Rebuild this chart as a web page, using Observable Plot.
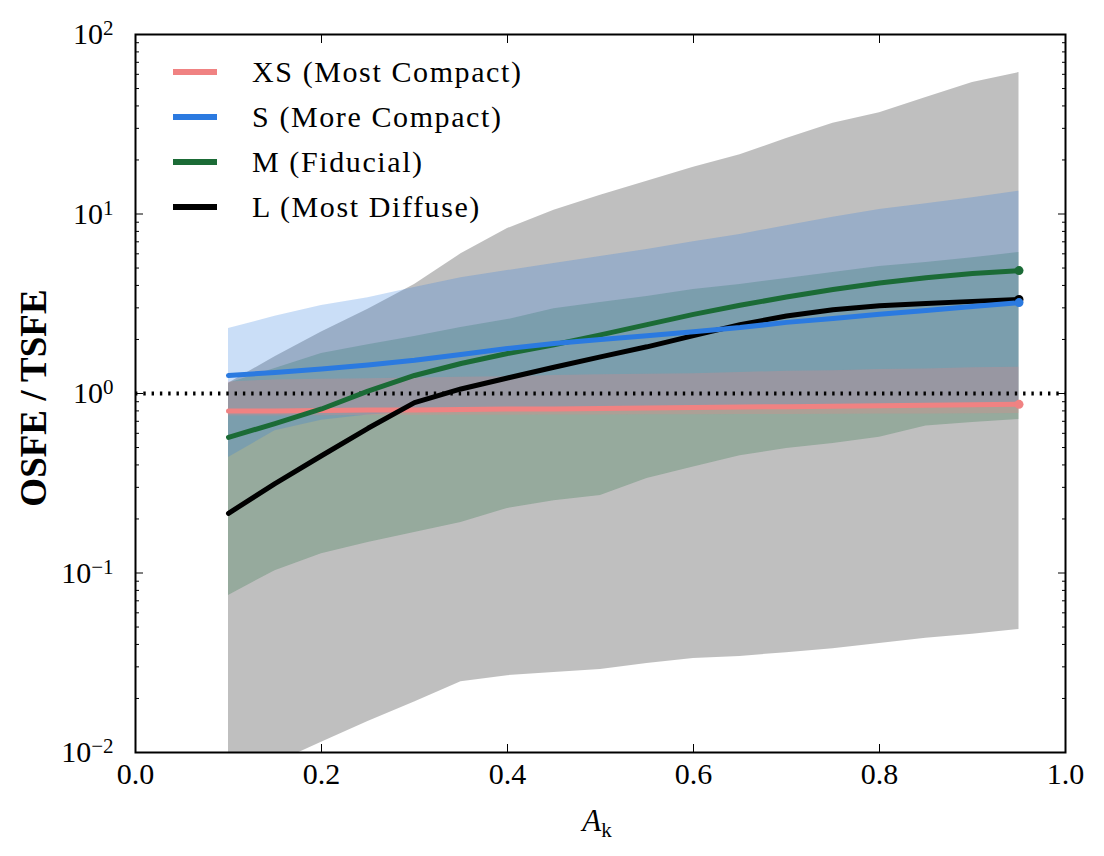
<!DOCTYPE html>
<html>
<head>
<meta charset="utf-8">
<script src="https://cdn.jsdelivr.net/npm/d3@7"></script>
<script src="https://cdn.jsdelivr.net/npm/@observablehq/plot@0.6"></script>
<style>
  html, body { margin: 0; padding: 0; background: #fff; }
  #chart { position: relative; width: 1104px; height: 856px; }
  #legend { position: absolute; left: 173px; top: 50px; font-family: 'Liberation Serif', serif; font-size: 30px; letter-spacing: 1.6px; color: #000; }
  #legend .row { display: flex; align-items: center; height: 44.8px; }
  #legend .sw { width: 44px; height: 6px; margin-right: 35px; }
</style>
</head>
<body>
<div id="chart"><div id="legend"></div></div>
<script>
// ---- data ----
const ak = [0.1,0.15,0.2,0.25,0.3,0.35,0.4,0.45,0.5,0.55,0.6,0.65,0.7,0.75,0.8,0.85,0.9,0.95];

const xsLine = [0.80,0.80,0.805,0.81,0.81,0.815,0.82,0.82,0.825,0.83,0.835,0.84,0.845,0.85,0.855,0.86,0.865,0.87];
const xsLo   = [0.75,0.75,0.752,0.754,0.755,0.756,0.757,0.758,0.76,0.761,0.762,0.763,0.765,0.766,0.768,0.77,0.772,0.774];
const xsHi   = [1.16,1.19,1.2,1.21,1.22,1.23,1.24,1.26,1.27,1.28,1.29,1.31,1.33,1.34,1.36,1.37,1.39,1.4];

const sLine = [1.26,1.31,1.37,1.44,1.53,1.65,1.78,1.9,2.0,2.1,2.21,2.33,2.49,2.62,2.76,2.9,3.05,3.21];
const sLo   = [0.44,0.62,0.71,0.76,0.79,0.8,0.81,0.82,0.82,0.83,0.83,0.84,0.84,0.85,0.85,0.86,0.86,0.86];
const sHi   = [2.3,2.69,3.09,3.42,3.9,4.42,4.84,5.3,5.8,6.35,7.0,7.7,8.6,9.6,10.6,11.4,12.3,13.4];

const mLine = [0.57,0.68,0.82,1.03,1.26,1.47,1.67,1.87,2.12,2.42,2.76,3.1,3.45,3.8,4.13,4.42,4.66,4.84];
const mLo   = [0.075,0.103,0.128,0.148,0.168,0.191,0.229,0.253,0.27,0.336,0.39,0.45,0.494,0.527,0.57,0.66,0.69,0.716];
const mHi   = [1.14,1.38,1.67,1.87,2.08,2.33,2.58,2.97,3.21,3.47,3.8,4.05,4.37,4.72,5.1,5.37,5.7,6.1];

const lLine = [0.215,0.315,0.45,0.64,0.89,1.06,1.22,1.40,1.60,1.82,2.1,2.42,2.7,2.93,3.08,3.17,3.26,3.34];
const lLo   = [0.0067,0.0087,0.0114,0.0149,0.0191,0.0248,0.0268,0.0279,0.029,0.0313,0.0334,0.0343,0.036,0.0379,0.0405,0.0433,0.0456,0.0484];
const lHi   = [1.14,1.6,2.2,2.95,4.05,6.0,8.3,10.5,12.7,15.2,18.2,21.4,26.3,32,36.7,44.6,54,61.4];

const seriesNames  = ["XS (Most Compact)", "S (More Compact)", "M (Fiducial)", "L (Most Diffuse)"];
const seriesKeys   = ["XS", "S", "M", "L"];
const seriesColors = ["#f08282", "#2b7ae0", "#1b6b36", "#000000"];

const xTicks = [0, 0.2, 0.4, 0.6, 0.8, 1.0];
const yTicks = [0.01, 0.1, 1, 10, 100];
const yTickLabels = ["10^−2", "10^−1", "10^0", "10^1", "10^2"];
const yMinor = [];
for (const d of [0.01, 0.1, 1, 10]) for (let k = 2; k <= 9; k++) yMinor.push(+(k * d).toPrecision(3));

const xLabel = ["A", "k"];
const yLabel = "OSFE / TSFE";

// ---- build table ----
const lines = {XS: xsLine, S: sLine, M: mLine, L: lLine};
const los = {XS: xsLo, S: sLo, M: mLo, L: lLo};
const his = {XS: xsHi, S: sHi, M: mHi, L: lHi};
const color = Object.fromEntries(seriesKeys.map((k, i) => [k, seriesColors[i]]));
const rows = seriesKeys.flatMap(k => ak.map((a, i) => ({key: k, ak: a, v: lines[k][i], lo: los[k][i], hi: his[k][i]})));
const of = k => rows.filter(d => d.key === k);

const bandOrder = ["L", "M", "S", "XS"];
const lineOrder = ["XS", "M", "L", "S"];
const SERIF = "'Liberation Serif', 'Times New Roman', serif";

const plot = Plot.plot({
  width: 1104,
  height: 856,
  marginLeft: 135,
  marginRight: 39,
  marginTop: 34,
  marginBottom: 104,
  x: {domain: [0, 1]},
  y: {type: "log", domain: [0.01, 100]},
  style: {fontFamily: SERIF, fontSize: "30px", color: "black", background: "white", overflow: "visible"},
  marks: [
    ...bandOrder.map(k => Plot.areaY(of(k), {x: "ak", y1: "lo", y2: "hi", fill: color[k], fillOpacity: 0.25, clip: true})),
    Plot.ruleY([1], {stroke: "black", strokeWidth: 4, strokeDasharray: "2.4,5.9"}),
    ...lineOrder.map(k => Plot.line(of(k), {x: "ak", y: "v", stroke: color[k], strokeWidth: 5, strokeLinejoin: "round"})),
    ...lineOrder.map(k => Plot.dot(of(k).slice(-1), {x: "ak", y: "v", r: 4.5, fill: color[k], stroke: null})),
    // ticks (inward)
    Plot.axisX({ticks: xTicks, anchor: "bottom", tickSize: -8, tickFormat: () => "", label: null}),
    Plot.axisX({ticks: xTicks, anchor: "top", tickSize: -8, tickFormat: () => "", label: null}),
    Plot.axisY({ticks: yTicks, anchor: "left", tickSize: -8, tickFormat: () => "", label: null}),
    Plot.axisY({ticks: yTicks, anchor: "right", tickSize: -8, tickFormat: () => "", label: null}),
    Plot.axisY({ticks: yMinor, anchor: "left", tickSize: -4, tickFormat: () => "", label: null}),
    Plot.axisY({ticks: yMinor, anchor: "right", tickSize: -4, tickFormat: () => "", label: null}),
    // tick labels
    Plot.axisX({ticks: xTicks, anchor: "bottom", tickSize: 0, tickPadding: 10, tickFormat: d3.format(".1f"), label: null}),
    Plot.axisY({ticks: yTicks, anchor: "left", tickSize: 0, tickPadding: 22, tickFormat: d => yTickLabels[yTicks.indexOf(d)], label: null}),
    Plot.frame({stroke: "black", strokeWidth: 2})
  ]
});

document.getElementById("chart").prepend(plot);
const svg = d3.select(plot);

// force serif tick labels
svg.selectAll('g[aria-label="x-axis tick label"], g[aria-label="y-axis tick label"]')
  .attr("font-family", SERIF).attr("font-size", 30).attr("font-variant", null)
  .style("font-family", SERIF).style("font-size", "30px");
svg.selectAll('g[aria-label="x-axis tick label"] text, g[aria-label="y-axis tick label"] text')
  .style("font-family", SERIF).style("font-size", "30px");

// superscript exponents on y tick labels
svg.selectAll('g[aria-label="y-axis tick label"] text').each(function () {
  const t = d3.select(this);
  const s = t.text();
  if (!s.includes("^")) return;
  const [base, exp] = s.split("^");
  t.text(null);
  t.append("tspan").text(base);
  t.append("tspan").attr("dy", "-0.42em").style("font-size", "21px").text(exp);
});

// axis titles
const xs = plot.scale("x"), ysc = plot.scale("y");
const xc = (xs.apply(0) + xs.apply(1)) / 2;
const yc = (ysc.apply(0.01) + ysc.apply(100)) / 2;
const xt = svg.append("text").attr("x", xc - 3).attr("y", 831).attr("text-anchor", "middle")
  .style("font-family", SERIF).style("font-size", "31px").attr("fill", "black");
xt.append("tspan").style("font-style", "italic").text(xLabel[0]);
xt.append("tspan").style("font-size", "21px").attr("dy", 6).text(xLabel[1]);

svg.append("text").attr("transform", `translate(46,${yc + 5}) rotate(-90)`).attr("text-anchor", "middle")
  .style("font-family", SERIF).style("font-weight", "bold").style("font-size", "37px").attr("fill", "black")
  .text(yLabel);

// legend
const lg = d3.select("#legend");
seriesKeys.forEach((k, i) => {
  const r = lg.append("div").attr("class", "row");
  r.append("div").attr("class", "sw").style("background", seriesColors[i]);
  r.append("span").text(seriesNames[i]);
});
</script>
</body>
</html>
